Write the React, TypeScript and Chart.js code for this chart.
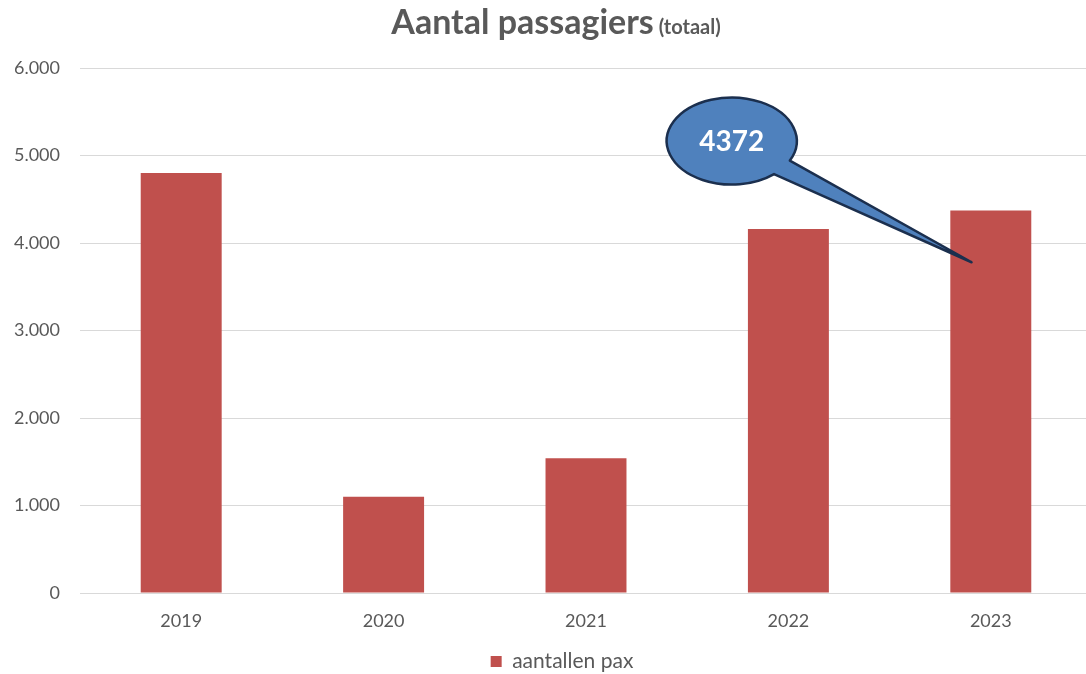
import React, { useEffect, useRef } from "react";
import { Chart, registerables } from "chart.js";

Chart.register(...registerables);

const categories = ["2019", "2020", "2021", "2022", "2023"];
const passengers = [4800, 1100, 1540, 4160, 4372];
const seriesLabel = "aantallen pax";
const yMin = 0;
const yMax = 6000;
const yStep = 1000;
const titleMain = "Aantal passagiers";
const titleSub = "(totaal)";
const calloutIndex = 4;
const calloutTipValue = 3780;
const calloutCenterValue = 5165;

const FONT = "Lato, 'Noto Sans', sans-serif";
const GREY = "#595959";

function formatNL(v: number): string {
  const s = Math.round(v).toString();
  return s.replace(/\B(?=(\d{3})+(?!\d))/g, ".");
}

const titlePlugin = {
  id: "composedTitle",
  afterDraw(chart: any) {
    const ctx = chart.ctx as CanvasRenderingContext2D;
    ctx.save();
    ctx.fillStyle = GREY;
    ctx.textBaseline = "alphabetic";
    ctx.font = `bold 34px ${FONT}`;
    const w1 = ctx.measureText(titleMain).width;
    ctx.font = `bold 20px ${FONT}`;
    const w2 = ctx.measureText(titleSub).width;
    const gap = 5;
    const total = w1 + gap + w2;
    const cx = 556;
    const x0 = cx - total / 2;
    ctx.textAlign = "left";
    ctx.font = `bold 34px ${FONT}`;
    ctx.fillText(titleMain, x0, 34);
    ctx.font = `bold 20px ${FONT}`;
    ctx.fillText(titleSub, x0 + w1 + gap, 34);
    ctx.restore();
  },
};

const legendShiftPlugin = {
  id: "legendShift",
  afterLayout(chart: any) {
    if (chart.legend) {
      chart.legend.left += 32;
    }
  },
};

const calloutPlugin = {
  id: "callout",
  afterDatasetsDraw(chart: any) {
    const xs = chart.scales.x;
    const ys = chart.scales.y;
    const ctx = chart.ctx as CanvasRenderingContext2D;
    const cat = xs.getPixelForValue(1) - xs.getPixelForValue(0);
    const bx = xs.getPixelForValue(calloutIndex);
    const tipX = bx - 0.095 * cat;
    const tipY = ys.getPixelForValue(calloutTipValue);
    const cx = bx - 1.28 * cat;
    const cy = ys.getPixelForValue(calloutCenterValue);
    const rx = 65;
    const ry = 43.5;
    const t1 = (49.4 * Math.PI) / 180;
    const t2 = (26.6 * Math.PI) / 180;
    const p1x = cx + rx * Math.cos(t1);
    const p1y = cy + ry * Math.sin(t1);
    const p2x = cx + rx * Math.cos(t2);
    const p2y = cy + ry * Math.sin(t2);
    ctx.save();
    ctx.beginPath();
    ctx.moveTo(p1x, p1y);
    ctx.lineTo(tipX, tipY);
    ctx.lineTo(p2x, p2y);
    ctx.ellipse(cx, cy, rx, ry, 0, t2, t1 - Math.PI * 2, true);
    ctx.closePath();
    ctx.fillStyle = "#4F81BD";
    ctx.fill();
    ctx.lineWidth = 2.5;
    ctx.lineJoin = "round";
    ctx.strokeStyle = "#1B2F4E";
    ctx.stroke();
    ctx.fillStyle = "#FFFFFF";
    ctx.font = `bold 28px ${FONT}`;
    ctx.textAlign = "center";
    ctx.textBaseline = "middle";
    ctx.fillText(String(passengers[calloutIndex]), cx, cy + 1);
    ctx.restore();
  },
};

export default function App() {
  const ref = useRef<HTMLCanvasElement | null>(null);

  useEffect(() => {
    if (!ref.current) return;
    const chart = new Chart(ref.current, {
      type: "bar",
      data: {
        labels: categories,
        datasets: [
          {
            label: seriesLabel,
            data: passengers,
            backgroundColor: "#C0504D",
            borderWidth: 0,
            categoryPercentage: 1,
            barPercentage: 0.4,
          },
        ],
      },
      plugins: [titlePlugin, calloutPlugin, legendShiftPlugin],
      options: {
        animation: false,
        responsive: true,
        maintainAspectRatio: false,
        layout: { padding: { top: 68, left: 0, right: 0, bottom: 0 } },
        plugins: {
          title: { display: false },
          tooltip: { enabled: false },
          legend: {
            display: true,
            position: "bottom",
            labels: {
              boxWidth: 11,
              boxHeight: 11,
              color: GREY,
              padding: 8,
              font: { family: FONT, size: 21 },
            },
          },
        },
        scales: {
          x: {
            afterFit: (scale: any) => {
              scale.height = 50;
            },
            grid: { display: false, drawTicks: false },
            border: { display: true, color: "#D9D9D9", width: 1 },
            ticks: {
              color: GREY,
              padding: 17,
              font: { family: FONT, size: 18 },
            },
          },
          y: {
            min: yMin,
            max: yMax,
            afterFit: (scale: any) => {
              scale.width = 80;
            },
            grid: { color: "#D9D9D9", lineWidth: 1, drawTicks: false },
            border: { display: false },
            ticks: {
              stepSize: yStep,
              color: GREY,
              padding: 20,
              font: { family: FONT, size: 18 },
              callback: (v: any) => formatNL(Number(v)),
            },
          },
        },
      } as any,
    });
    return () => chart.destroy();
  }, []);

  return (
    <div
      style={{
        position: "fixed",
        left: 0,
        top: 0,
        width: 1086,
        height: 674,
        overflow: "hidden",
        background: "#ffffff",
      }}
    >
      <div style={{ position: "absolute", left: 0, top: 0, width: 1092, height: 682 }}>
        <canvas ref={ref} />
      </div>
    </div>
  );
}
